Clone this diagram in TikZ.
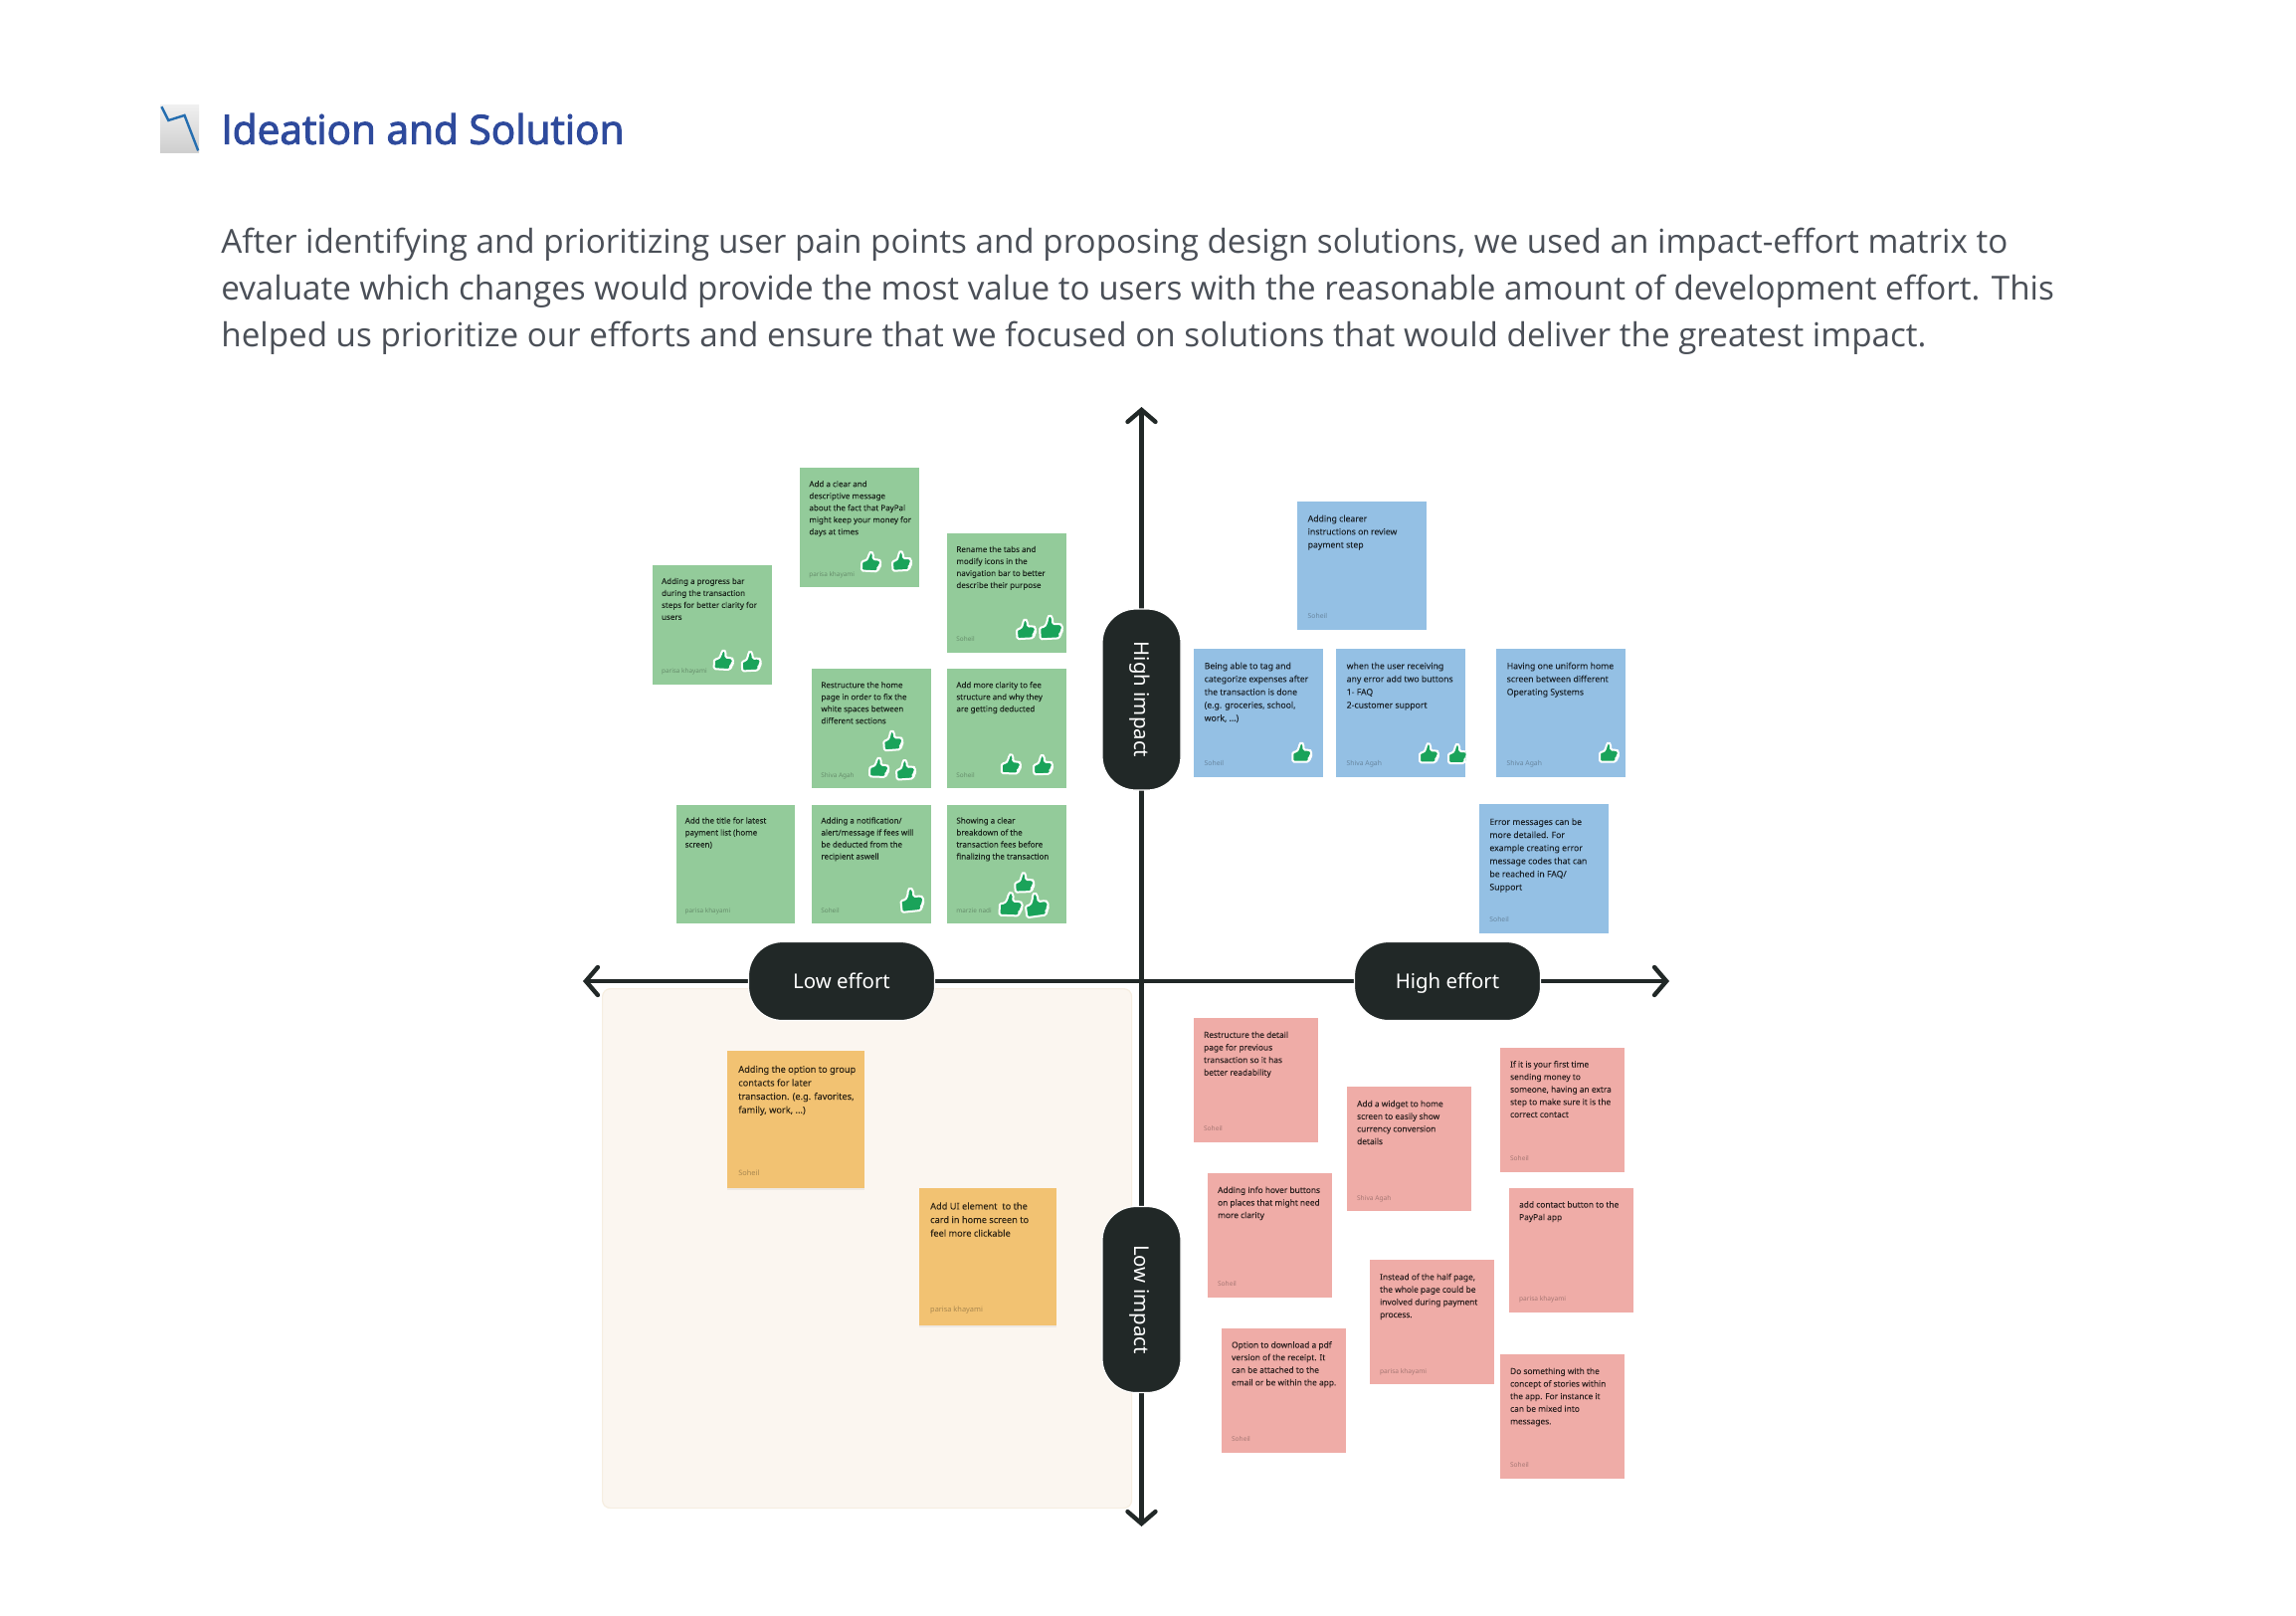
\documentclass[tikz,border=0pt]{standalone}
\usepackage{fontspec}
\usetikzlibrary{arrows.meta}
\usetikzlibrary{shapes,positioning,shadows}
\setmainfont{Noto Sans}
\newfontfamily\bodyfont{Open Sans}
\newfontfamily\titlefont[FakeBold=2.5]{Open Sans}
\newfontfamily\notefont[FakeBold=0.08]{Noto Sans}
\newfontfamily\byfont{Noto Sans}
\definecolor{titleblue}{HTML}{2E4A9C}
\definecolor{bodygrey}{HTML}{4A4F57}
\definecolor{pillblack}{HTML}{212827}
\definecolor{notegreen}{HTML}{93CB9A}
\definecolor{noteblue}{HTML}{94C0E4}
\definecolor{notered}{HTML}{EFACA7}
\definecolor{noteorange}{HTML}{F2C272}
\definecolor{thumbgreen}{HTML}{1AA35A}
\definecolor{panelcream}{HTML}{FBF6F0}
\definecolor{paneledge}{HTML}{F6EEE1}
\tikzset{
  greennote/.style={fill=notegreen, minimum size=59.75pt},
  greentext/.style={font=\notefont\fontsize{4}{6}\selectfont, inner xsep=4.5pt, inner ysep=5.2pt},
  greenby/.style={font=\byfont\fontsize{3.2}{4}\selectfont, inner xsep=4.5pt, inner ysep=5.4pt},
  bluenote/.style={fill=noteblue, minimum size=64.85pt},
  bluetext/.style={font=\notefont\fontsize{4.34}{6.55}\selectfont, inner xsep=5.15pt, inner ysep=5.7pt},
  blueby/.style={font=\byfont\fontsize{3.4}{4}\selectfont, inner xsep=5.15pt, inner ysep=5.9pt},
  rednote/.style={fill=notered, minimum size=62.5pt},
  redtext/.style={font=\notefont\fontsize{4.18}{6.3}\selectfont, inner xsep=4.85pt, inner ysep=5.5pt},
  redby/.style={font=\byfont\fontsize{3.3}{4}\selectfont, inner xsep=4.85pt, inner ysep=5.7pt},
  orangenote/.style={fill=noteorange, minimum size=69pt, drop shadow={shadow xshift=0pt, shadow yshift=-1pt, opacity=0.1}},
  orangetext/.style={font=\notefont\fontsize{4.6}{6.8}\selectfont, inner xsep=5.75pt, inner ysep=6.1pt},
  orangeby/.style={font=\byfont\fontsize{3.7}{4}\selectfont, inner xsep=5.75pt, inner ysep=6.4pt},
  notetext/.style={anchor=north west, align=left, text=black, text opacity=0.75},
  noteby/.style={anchor=south west, text=black, text opacity=0.3, text depth=0pt},
  pill/.style={fill=pillblack, draw=white, line width=0.6pt, rounded corners=17pt, text=white,
    font=\fontsize{10.2}{12}\selectfont, text height=7.3pt, text depth=0pt},
  axisline/.style={draw=pillblack, line width=2.2pt, {Straight Barb[length=6pt,width=14pt,line cap=round]}-{Straight Barb[length=6pt,width=14pt,line cap=round]}},
  thumb/.pic={
    \path[draw=white, fill=thumbgreen, line width=1pt, line join=round, rounded corners=0.8pt]
      (-9,-1) -- (-9,9) -- (7,9) -- (8,6.5) -- (7.5,5.5) -- (9.3,4.5) -- (8.8,3) -- (10,2)
      -- (9.7,-2) -- (8,-3) -- (2,-3) -- (2.2,-8.5) -- (0,-11) -- (-2,-9) -- (-2.6,-5) -- (-5,-1) -- cycle;
  },
}
\newcommand{\notecard}[6]{
  \node[#2note, anchor=north west] at (#3,#4) (#1) {};
  \node[#2text, notetext] at (#1.north west) (#1_text) {\strut #5};
  \node[#2by, noteby] at (#1.south west) (#1_by) {#6};
}
\begin{document}
\begin{tikzpicture}[x=0.5pt, y=-0.5pt]
    \useasboundingbox (0,0) rectangle (2308,1623);

    % Heading
    \shade[top color=gray!12, bottom color=gray!38] (161,105.5) rectangle (200,153);
    \draw[draw=titleblue!80!cyan, line width=1.2pt] (162.4,107.2) -- (169.3,121) -- (185.5,115.9) -- (199.2,151.4);
    \node[anchor=west, inner sep=0pt, text=titleblue, font=\titlefont\fontsize{20.3}{24}\selectfont] at (222,129.5) (title) {Ideation and Solution};
    \node[anchor=north west, inner sep=0pt, align=left, text=bodygrey, font=\bodyfont\fontsize{16.6}{23.5}\selectfont] at (222,228.5) (intro)
        {After identifying and prioritizing user pain points and proposing design solutions, we used an impact-effort matrix to\\
        evaluate which changes would provide the most value to users with the reasonable amount of development effort. This\\
        helped us prioritize our efforts and ensure that we focused on solutions that would deliver the greatest impact.};

    % Low effort, low impact panel
    \node[anchor=north west, fill=panelcream, draw=paneledge, line width=0.6pt, rounded corners=4pt, minimum width=266pt, minimum height=261pt] at (605,993) (panel) {};

    % Axes
    \coordinate (axis_w) at (586,986);
    \coordinate (axis_e) at (1678,986);
    \coordinate (axis_n) at (1147.5,409);
    \coordinate (axis_s) at (1147.5,1534);
    \draw[axisline] (axis_w) -- (axis_e);
    \draw[axisline] (axis_n) -- (axis_s);

    \node[pill, minimum width=93.5pt, minimum height=39.5pt] at (846,986) (pill_low_effort) {Low effort};
    \node[pill, minimum width=93.5pt, minimum height=39.5pt] at (1455,986) (pill_high_effort) {High effort};
    \node[pill, rotate=-90, minimum width=91pt, minimum height=39.5pt] at (1147.5,703) (pill_high_impact) {High impact};
    \node[pill, rotate=-90, minimum width=93.5pt, minimum height=39.5pt] at (1147.5,1306) (pill_low_impact) {Low impact};

    % High impact, low effort
    \notecard{note_message}{green}{804}{470}{Add a clear and\\descriptive message\\about the fact that PayPal\\might keep your money for\\days at times}{parisa khayami}
    \notecard{note_tabs}{green}{952}{535.7}{Rename the tabs and\\modify icons in the\\navigation bar to better\\describe their purpose}{Soheil}
    \notecard{note_progress}{green}{655.7}{567.7}{Adding a progress bar\\during the transaction\\steps for better clarity for\\users}{parisa khayami}
    \notecard{note_home}{green}{816}{672}{Restructure the home\\page in order to fix the\\white spaces between\\different sections}{Shiva Agah}
    \notecard{note_clarity}{green}{952}{672}{Add more clarity to fee\\structure and why they\\are getting deducted}{Soheil}
    \notecard{note_title}{green}{679.3}{808.3}{Add the title for latest\\payment list (home\\screen)}{parisa khayami}
    \notecard{note_alert}{green}{816}{808.3}{Adding a notification/\\alert/message if fees will\\be deducted from the\\recipient aswell}{Soheil}
    \notecard{note_fees}{green}{952}{808.3}{Showing a clear\\breakdown of the\\transaction fees before\\finalizing the transaction}{marzie nadi}

    % High impact, high effort
    \notecard{note_review}{blue}{1304}{503.3}{Adding clearer\\instructions on review\\payment step}{Soheil}
    \notecard{note_tag}{blue}{1200}{651.3}{Being able to tag and\\categorize expenses after\\the transaction is done\\(e.g. groceries, school,\\work, ...)}{Soheil}
    \notecard{note_error}{blue}{1343}{651.3}{when the user receiving\\any error add two buttons\\1- FAQ\\2-customer support}{Shiva Agah}
    \notecard{note_uniform}{blue}{1504}{651.3}{Having one uniform home\\screen between different\\Operating Systems}{Shiva Agah}
    \notecard{note_codes}{blue}{1486.7}{808}{Error messages can be\\more detailed. For\\example creating error\\message codes that can\\be reached in FAQ/\\Support}{Soheil}

    % Low impact, high effort
    \notecard{note_detail}{red}{1200}{1022.7}{Restructure the detail\\page for previous\\transaction so it has\\better readability}{Soheil}
    \notecard{note_widget}{red}{1354}{1092}{Add a widget to home\\screen to easily show\\currency conversion\\details}{Shiva Agah}
    \notecard{note_first}{red}{1508}{1052.3}{If it is your first time\\sending money to\\someone, having an extra\\step to make sure it is the\\correct contact}{Soheil}
    \notecard{note_hover}{red}{1214}{1178.7}{Adding info hover buttons\\on places that might need\\more clarity}{Soheil}
    \notecard{note_contact}{red}{1517}{1193.3}{add contact button to the\\PayPal app}{parisa khayami}
    \notecard{note_half}{red}{1377}{1266}{Instead of the half page,\\the whole page could be\\involved during payment\\process.}{parisa khayami}
    \notecard{note_pdf}{red}{1228}{1334.3}{Option to download a pdf\\version of the receipt. It\\can be attached to the\\email or be within the app.}{Soheil}
    \notecard{note_stories}{red}{1508}{1360.7}{Do something with the\\concept of stories within\\the app. For instance it\\can be mixed into\\messages.}{Soheil}

    % Low impact, low effort
    \notecard{note_group}{orange}{730.4}{1055.7}{Adding the option to group\\contacts for later\\transaction. (e.g. favorites,\\family, work, ...)}{Soheil}
    \notecard{note_card}{orange}{923.3}{1193.3}{Add UI element\ \ to the\\card in home screen to\\feel more clickable}{parisa khayami}

    % Votes
    \pic (vote_a) [rotate=-3] at (875.3,565) {thumb};
    \pic (vote_b) [rotate=3] at (906,564.3) {thumb};
    \pic (vote_c) [rotate=3] at (1031,632.7) {thumb};
    \pic (vote_d) [rotate=3, scale=1.2] at (1056,631) {thumb};
    \pic (vote_e) [rotate=-3] at (727,663.7) {thumb};
    \pic (vote_f) [rotate=3] at (754.7,665) {thumb};
    \pic (vote_g) [rotate=4] at (897.3,744.7) {thumb};
    \pic (vote_h) [rotate=-2] at (883.3,771.7) {thumb};
    \pic (vote_i) [rotate=4] at (910,774) {thumb};
    \pic (vote_j) [rotate=-2] at (1016,768.3) {thumb};
    \pic (vote_k) [rotate=2] at (1048,769) {thumb};
    \pic (vote_l) [rotate=6, scale=1.2] at (916.3,905) {thumb};
    \pic (vote_m) [rotate=2] at (1029.3,887.3) {thumb};
    \pic (vote_n) [rotate=-2, scale=1.2] at (1015.7,909.3) {thumb};
    \pic (vote_o) [rotate=8, scale=1.2] at (1041.7,910) {thumb};
    \pic (vote_p) at (1308.3,756.7) {thumb};
    \pic (vote_q) at (1436,757.3) {thumb};
    \pic (vote_r) at (1617,756.7) {thumb};
    \begin{scope}
        \clip (note_error.north west) rectangle (note_error.south east);
        \pic (vote_s) at (1465,758) {thumb};
    \end{scope}
\end{tikzpicture}
\end{document}
